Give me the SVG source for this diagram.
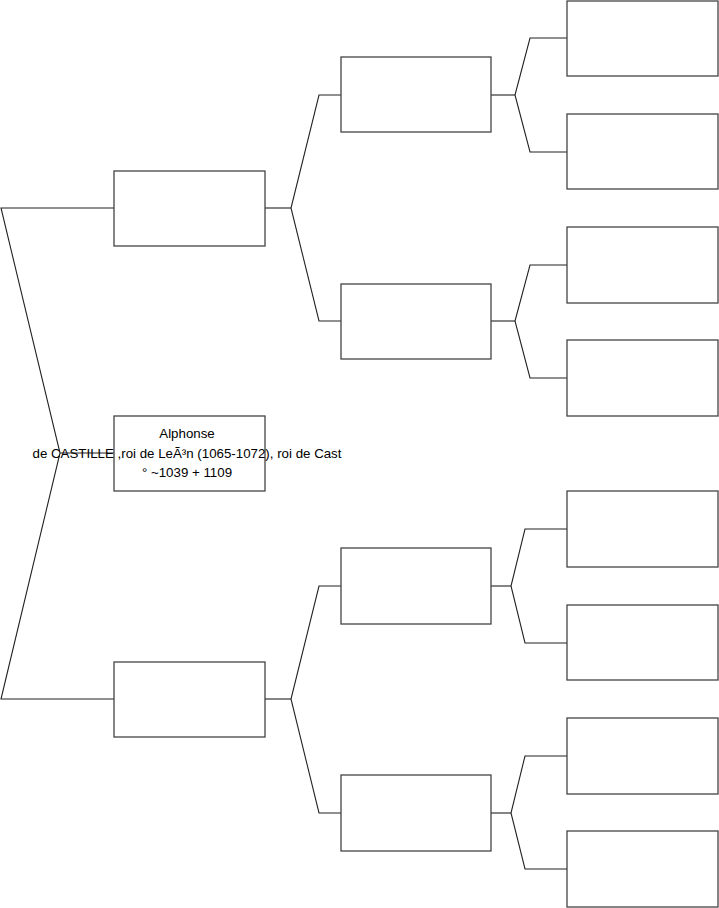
<svg xmlns="http://www.w3.org/2000/svg" width="719" height="908" viewBox="0 0 719 908">
<style>
.box{fill:#fff;stroke:#444;stroke-width:1.3}
.c{fill:none;stroke:#222;stroke-width:1.1}
text{font-family:"Liberation Sans",Arial,sans-serif;font-size:13.3px;fill:#000;text-anchor:middle}
</style>
<rect width="719" height="908" fill="#fff"/>
<g id="connectors">
<polyline class="c" points="114,208 1,208 60,453 1,699 114,699"/>
<polyline class="c" points="60,453 114,453"/>
<polyline class="c" points="265,208 291,208"/>
<polyline class="c" points="341,95 319,95 291,208 319,321 341,321"/>
<polyline class="c" points="265,699 291,699"/>
<polyline class="c" points="341,586 319,586 291,699 319,813 341,813"/>
<polyline class="c" points="491,95 515,95"/>
<polyline class="c" points="567,38 530,38 515,95 530,152 567,152"/>
<polyline class="c" points="491,321 515,321"/>
<polyline class="c" points="567,265 530,265 515,321 530,378 567,378"/>
<polyline class="c" points="491,586 511,586"/>
<polyline class="c" points="567,529 525,529 511,586 525,643 567,643"/>
<polyline class="c" points="491,813 511,813"/>
<polyline class="c" points="567,756 525,756 511,813 525,869 567,869"/>
</g>
<g id="n-father"><rect class="box" x="114" y="171" width="151" height="75"/></g>
<g id="n-root"><rect class="box" x="114" y="416" width="151" height="75"/>
<text x="187" y="438">Alphonse</text>
<text x="187" y="458">de CASTILLE ,roi de LeÃ³n (1065-1072), roi de Cast</text>
<text x="187" y="477">° ~1039 + 1109</text>
</g>
<g id="n-mother"><rect class="box" x="114" y="662" width="151" height="75"/></g>
<g id="n-ff"><rect class="box" x="341" y="57" width="150" height="75"/></g>
<g id="n-fm"><rect class="box" x="341" y="284" width="150" height="75"/></g>
<g id="n-mf"><rect class="box" x="341" y="548" width="150" height="76"/></g>
<g id="n-mm"><rect class="box" x="341" y="775" width="150" height="76"/></g>
<g id="n-fff"><rect class="box" x="567" y="1" width="151" height="75"/></g>
<g id="n-ffm"><rect class="box" x="567" y="114" width="151" height="75"/></g>
<g id="n-fmf"><rect class="box" x="567" y="227" width="151" height="76"/></g>
<g id="n-fmm"><rect class="box" x="567" y="340" width="151" height="76"/></g>
<g id="n-mff"><rect class="box" x="567" y="491" width="151" height="76"/></g>
<g id="n-mfm"><rect class="box" x="567" y="605" width="151" height="75"/></g>
<g id="n-mmf"><rect class="box" x="567" y="718" width="151" height="76"/></g>
<g id="n-mmm"><rect class="box" x="567" y="831" width="151" height="76"/></g>
</svg>
